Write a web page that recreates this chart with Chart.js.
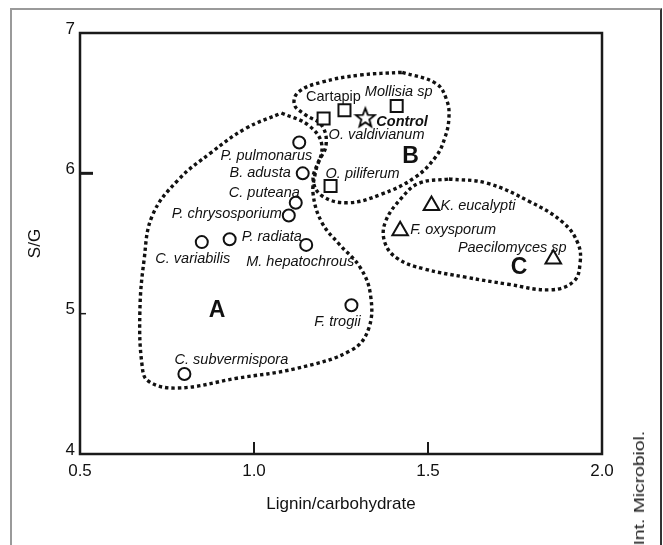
<!DOCTYPE html>
<html>
<head>
<meta charset="utf-8">
<script src="https://cdn.jsdelivr.net/npm/chart.js@4.4.1/dist/chart.umd.min.js"></script>
<style>
  body { margin: 0; background: #fff; }
  #wrap { position: relative; width: 663px; height: 545px; overflow: hidden; }
  #frame { position: absolute; left: 10px; top: 8px; width: 648px; height: 600px;
           border-left: 2px solid #9a9a9a; border-top: 2px solid #9a9a9a; border-right: 2px solid #333; }
  #chart { position: absolute; left: 0; top: 0; }
  #credit { position: absolute; left: 631px; top: 445px; line-height: 18px;
            writing-mode: vertical-rl; transform: rotate(180deg) scaleY(1.33);
            font: 14.5px "Liberation Sans", Arial, sans-serif; color: #222; }
</style>
</head>
<body>
<div id="wrap">
  <div id="frame"></div>
  <canvas id="chart" width="663" height="545"></canvas>
  <div id="credit">Int. Microbiol.</div>
</div>
<script>
// axis ticks
const xTickValues = [0.5, 1.0, 1.5, 2.0];
const yTickValues = [4, 5, 6, 7];

// group A - circles
const circleNames = ['P. pulmonarus', 'B. adusta', 'C. puteana', 'P. chrysosporium', 'C. variabilis',
                     'P. radiata', 'M. hepatochrous', 'F. trogii', 'C. subvermispora'];
const circleX = [1.13, 1.14, 1.12, 1.10, 0.85, 0.93, 1.15, 1.28, 0.80];
const circleY = [6.22, 6.00, 5.79, 5.70, 5.51, 5.53, 5.49, 5.06, 4.57];

// group B - squares and control
const squareNames = ['O. valdivianum', 'Cartapip', 'Mollisia sp', 'O. piliferum'];
const squareX = [1.20, 1.26, 1.41, 1.22];
const squareY = [6.39, 6.45, 6.48, 5.91];
const controlNames = ['Control'];
const controlX = [1.32];
const controlY = [6.40];

// group C - triangles
const triangleNames = ['K. eucalypti', 'F. oxysporum', 'Paecilomyces sp'];
const triangleX = [1.51, 1.42, 1.86];
const triangleY = [5.77, 5.59, 5.39];

// group letters
const groupNames = ['A', 'B', 'C'];
const groupX = [0.894, 1.450, 1.762];
const groupY = [5.02, 6.12, 5.33];

// dotted outlines
const outlineAX = [1.079, 1.158, 1.195, 1.176, 1.170, 1.195, 1.243, 1.305, 1.335, 1.329, 1.280, 1.122,
                   0.951, 0.781, 0.696, 0.678, 0.672, 0.684, 0.708, 0.781, 0.878, 0.976];
const outlineAY = [6.43, 6.34, 6.20, 6.00, 5.85, 5.65, 5.50, 5.33, 5.13, 4.89, 4.74, 4.61,
                   4.54, 4.47, 4.52, 4.64, 5.01, 5.38, 5.70, 5.95, 6.15, 6.32];
const outlineBX = [1.426, 1.523, 1.554, 1.560, 1.548, 1.523, 1.462, 1.365, 1.268, 1.195, 1.170, 1.183,
                   1.207, 1.195, 1.146, 1.116, 1.128, 1.195, 1.304];
const outlineBY = [6.72, 6.64, 6.52, 6.39, 6.25, 6.12, 5.97, 5.85, 5.79, 5.84, 5.95, 6.07,
                   6.20, 6.34, 6.42, 6.49, 6.58, 6.65, 6.70];
const outlineCX = [1.560, 1.669, 1.791, 1.888, 1.931, 1.937, 1.919, 1.852, 1.730, 1.608, 1.487, 1.414,
                   1.377, 1.377, 1.426, 1.475];
const outlineCY = [5.96, 5.93, 5.80, 5.65, 5.50, 5.36, 5.23, 5.17, 5.21, 5.26, 5.32, 5.39,
                   5.50, 5.65, 5.83, 5.93];

// label placement: [dx, dy, align] in pixels from the marker
const circleLabelPos = [[13, 14, 'right'], [-12, 0, 'right'], [4, -10, 'right'], [-7, -1, 'right'],
                        [-9, 17, 'center'], [12, -2, 'left'], [-6, 17, 'center'], [-14, 17, 'center'],
                        [47, -14, 'center']];
const squareLabelPos = [[5, 16, 'left'], [-11, -13, 'center'], [2, -14, 'center'], [-5, -12, 'left']];
const controlLabelPos = [[11, 5, 'left']];
const triangleLabelPos = [[9, 0, 'left'], [10, -1, 'left'], [-41, -11, 'center']];

const FONT = '"Liberation Sans", Arial, sans-serif';
const NARROW = '"Liberation Sans Narrow", "Arial Narrow", "Liberation Sans", sans-serif';
const italicFont = 'italic 14.5px ' + FONT;

function toPoints(xs, ys) {
  return xs.map((x, i) => ({ x: x, y: ys[i] }));
}
function closedOutline(xs, ys) {
  const pts = toPoints(xs, ys);
  pts.push(pts[0]);
  return pts;
}

// outlined five-point star for the control
function starImage() {
  const c = document.createElement('canvas');
  c.width = 24; c.height = 24;
  const g = c.getContext('2d');
  g.beginPath();
  for (let i = 0; i < 10; i++) {
    const r = i % 2 === 0 ? 10 : 4.2;
    const a = -Math.PI / 2 + i * Math.PI / 5;
    const px = 12 + r * Math.cos(a), py = 13 + r * Math.sin(a);
    if (i === 0) g.moveTo(px, py); else g.lineTo(px, py);
  }
  g.closePath();
  g.fillStyle = '#fff';
  g.fill();
  g.lineWidth = 1.8;
  g.strokeStyle = '#000';
  g.stroke();
  return c;
}

function outlineDataset(xs, ys) {
  return {
    data: closedOutline(xs, ys),
    showLine: true,
    pointRadius: 0,
    borderColor: '#111',
    borderWidth: 3.4,
    borderDash: [3.4, 3],
    tension: 0.4,
    fill: false
  };
}

function markerDataset(xs, ys, names, pos, style, radius, extra) {
  return Object.assign({
    data: toPoints(xs, ys),
    names: names,
    labelPos: pos,
    pointStyle: style,
    pointRadius: radius,
    pointBorderWidth: 2,
    pointBorderColor: '#111',
    pointBackgroundColor: '#fff'
  }, extra || {});
}

// text labels next to markers, group letters
const labelPlugin = {
  id: 'pointLabels',
  afterDatasetsDraw(chart) {
    const ctx = chart.ctx;
    ctx.save();
    ctx.fillStyle = '#111';
    ctx.textBaseline = 'middle';
    chart.data.datasets.forEach((ds, di) => {
      if (!ds.names) return;
      const meta = chart.getDatasetMeta(di);
      meta.data.forEach((pt, i) => {
        const p = ds.labelPos[i];
        ctx.font = ds.labelFont ? ds.labelFont(i) : italicFont;
        ctx.textAlign = p[2];
        ctx.fillText(ds.names[i], pt.x + p[0], pt.y + p[1]);
      });
    });
    const xs = chart.scales.x, ys = chart.scales.y;
    ctx.font = 'bold 23px ' + FONT;
    ctx.textAlign = 'center';
    groupNames.forEach((n, i) => {
      ctx.fillText(n, xs.getPixelForValue(groupX[i]), ys.getPixelForValue(groupY[i]));
    });
    ctx.restore();
  }
};

// box around the plot and the short inward ticks
const framePlugin = {
  id: 'frame',
  afterDraw(chart) {
    const { ctx, chartArea: a } = chart;
    const xs = chart.scales.x, ys = chart.scales.y;
    ctx.save();
    ctx.strokeStyle = '#1a1a1a';
    ctx.lineWidth = 2.5;
    ctx.strokeRect(a.left, a.top, a.right - a.left, a.bottom - a.top);
    ctx.lineWidth = 2;
    xTickValues.slice(1, -1).forEach(v => {
      const px = Math.round(xs.getPixelForValue(v));
      ctx.beginPath();
      ctx.moveTo(px, a.bottom);
      ctx.lineTo(px, a.bottom - 12);
      ctx.stroke();
    });
    ctx.lineWidth = 3;
    let py = ys.getPixelForValue(6);
    ctx.beginPath(); ctx.moveTo(a.left, py); ctx.lineTo(a.left + 13, py); ctx.stroke();
    ctx.lineWidth = 1.5;
    py = ys.getPixelForValue(5);
    ctx.beginPath(); ctx.moveTo(a.left, py); ctx.lineTo(a.left + 6, py); ctx.stroke();
    ctx.restore();
  }
};

const datasets = [
  markerDataset(circleX, circleY, circleNames, circleLabelPos, 'circle', 6),
  markerDataset(squareX, squareY, squareNames, squareLabelPos, 'rect', 8.5, {
    labelFont: i => (squareNames[i] === 'Cartapip' ? '14.5px ' : 'italic 14.5px ') + FONT
  }),
  markerDataset(controlX, controlY, controlNames, controlLabelPos, starImage(), 10, {
    labelFont: () => 'italic bold 14.5px ' + FONT
  }),
  markerDataset(triangleX, triangleY, triangleNames, triangleLabelPos, 'triangle', 9),
  outlineDataset(outlineAX, outlineAY),
  outlineDataset(outlineBX, outlineBY),
  outlineDataset(outlineCX, outlineCY)
];

new Chart(document.getElementById('chart'), {
  type: 'scatter',
  data: { datasets: datasets },
  options: {
    responsive: false,
    devicePixelRatio: 1,
    animation: false,
    events: [],
    layout: { padding: { top: 33, right: 61, left: 0, bottom: 0 } },
    plugins: { legend: { display: false }, tooltip: { enabled: false } },
    scales: {
      x: {
        type: 'linear',
        min: 0.5, max: 2.0,
        afterBuildTicks: s => { s.ticks = xTickValues.map(v => ({ value: v })); },
        afterFit: s => { s.height = 91; },
        grid: { display: false, drawTicks: false },
        border: { display: false },
        ticks: {
          padding: 7,
          color: '#111',
          font: { family: NARROW, size: 17 },
          callback: v => v.toFixed(1),
          maxRotation: 0
        },
        title: {
          display: true,
          text: 'Lignin/carbohydrate',
          color: '#111',
          font: { family: NARROW, size: 17 },
          padding: { top: 0, bottom: 30 }
        }
      },
      y: {
        type: 'linear',
        min: 4, max: 7,
        afterBuildTicks: s => { s.ticks = yTickValues.map(v => ({ value: v })); },
        afterFit: s => { s.width = 80; },
        grid: { display: false, drawTicks: false },
        border: { display: false },
        ticks: {
          padding: 5,
          labelOffset: -4,
          color: '#111',
          font: { family: NARROW, size: 17 }
        },
        title: {
          display: true,
          text: 'S/G',
          color: '#111',
          font: { family: NARROW, size: 17 },
          padding: { top: 25, bottom: 0 }
        }
      }
    }
  },
  plugins: [labelPlugin, framePlugin]
});
</script>
</body>
</html>
